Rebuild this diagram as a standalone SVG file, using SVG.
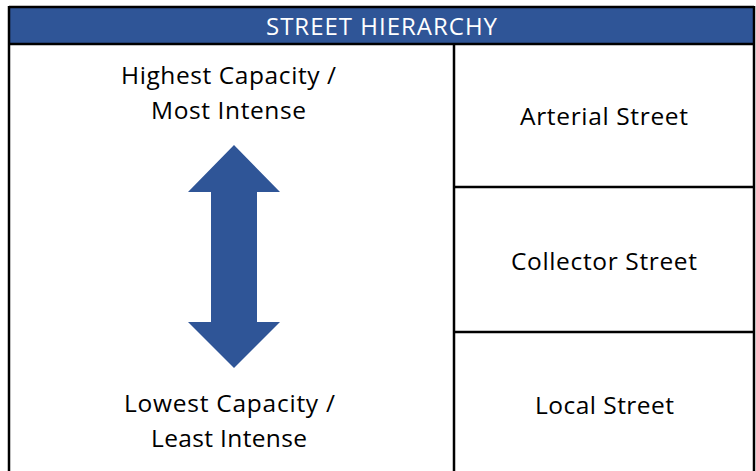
<svg xmlns="http://www.w3.org/2000/svg" width="756" height="471" viewBox="0 0 756 471">
<style>
.t{font-family:"Open Sans","Liberation Sans",Arial,sans-serif;font-size:24.5px;fill:#000;text-anchor:middle}
.h{font-family:"Open Sans","Liberation Sans",Arial,sans-serif;font-size:24px;fill:#fff;text-anchor:middle}
.ln{stroke:#000;stroke-width:2.5;fill:none}
</style>
<rect width="756" height="471" fill="#fff"/>
<g id="header">
<rect x="9" y="7" width="745" height="37" fill="#2F5597"/>
<text class="h" x="381.5" y="35" textLength="231" lengthAdjust="spacing">STREET HIERARCHY</text>
</g>
<g id="grid">
<path class="ln" d="M9,7 H754 M9,44 H754 M9,6 V471 M754,6 V471 M454,44 V471 M454,187 H754 M454,332 H754"/>
</g>
<g id="top-label">
<text class="t" x="228.5" y="84" textLength="215" lengthAdjust="spacing">Highest Capacity /</text>
<text class="t" x="228.5" y="119" textLength="155" lengthAdjust="spacing">Most Intense</text>
</g>
<g id="arrow">
<polygon points="234,145 280,192 257,192 257,322 280,322 234,368 188,322 211,322 211,192 188,192" fill="#2F5597"/>
</g>
<g id="bottom-label">
<text class="t" x="229.5" y="412" textLength="211" lengthAdjust="spacing">Lowest Capacity /</text>
<text class="t" x="229" y="447" textLength="156" lengthAdjust="spacing">Least Intense</text>
</g>
<g id="arterial"><text class="t" x="604" y="125" textLength="168" lengthAdjust="spacing">Arterial Street</text></g>
<g id="collector"><text class="t" x="604" y="270" textLength="186" lengthAdjust="spacing">Collector Street</text></g>
<g id="local"><text class="t" x="604.5" y="414" textLength="139" lengthAdjust="spacing">Local Street</text></g>
</svg>
